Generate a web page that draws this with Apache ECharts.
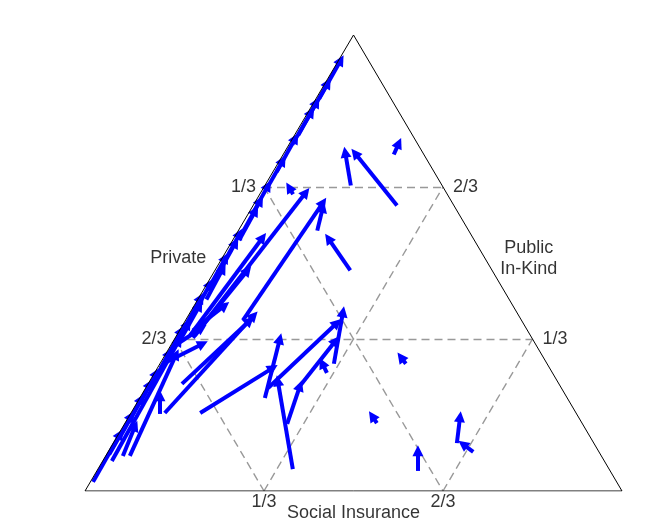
<!DOCTYPE html>
<html>
<head>
<meta charset="utf-8">
<script src="https://cdn.jsdelivr.net/npm/echarts@6/dist/echarts.min.js"></script>
<style>
html, body { margin: 0; padding: 0; background: #fff; }
#chart { width: 651px; height: 522px; }
</style>
</head>
<body>
<div id="chart"></div>
<script>
var tickShares = [1 / 3, 2 / 3];
var tickLabels = ['1/3', '2/3'];
var axisNames = ['Private', 'Public\nIn-Kind', 'Social Insurance'];

// each move: [social insurance start, public in-kind start, social insurance end, public in-kind end]
// moves that run along the Private / Public In-Kind edge
var edgeMoves = [
    [0.006, 0.86, 0.004, 0.945],
    [0.006, 0.82, 0.005, 0.895],
    [0.007, 0.78, 0.005, 0.853],
    [0.006, 0.76, 0.006, 0.831],
    [0.007, 0.70, 0.005, 0.774],
    [0.007, 0.66, 0.006, 0.725],
    [0.008, 0.61, 0.006, 0.670],
    [0.010, 0.57, 0.008, 0.637],
    [0.012, 0.55, 0.010, 0.615],
    [0.008, 0.50, 0.006, 0.565],
    [0.010, 0.48, 0.008, 0.545],
    [0.008, 0.44, 0.006, 0.512],
    [0.016, 0.42, 0.013, 0.488],
    [0.008, 0.39, 0.006, 0.455],
    [0.006, 0.35, 0.004, 0.424],
    [0.012, 0.33, 0.010, 0.407],
    [0.010, 0.29, 0.008, 0.367],
    [0.006, 0.27, 0.004, 0.352],
    [0.008, 0.22, 0.006, 0.303],
    [0.006, 0.19, 0.004, 0.259],
    [0.006, 0.15, 0.004, 0.235],
    [0.006, 0.12, 0.004, 0.202],
    [0.005, 0.08, 0.004, 0.165],
    [0.005, 0.02, 0.003, 0.125],
    [0.017, 0.066, 0.010, 0.33],
    [0.045, 0.077, 0.020, 0.30]
];

// moves inside the triangle
var innerMoves = [
    [0.032, 0.077, 0.022, 0.143],
    [0.055, 0.169, 0.035, 0.209],
    [0.063, 0.171, 0.122, 0.385],
    [0.063, 0.235, 0.120, 0.374],
    [0.129, 0.171, 0.215, 0.270],
    [0.006, 0.279, 0.058, 0.323],
    [0.025, 0.341, 0.053, 0.556],
    [0.033, 0.336, 0.061, 0.484],
    [0.034, 0.341, 0.084, 0.655],
    [0.107, 0.374, 0.127, 0.633],
    [0.147, 0.571, 0.132, 0.622],
    [0.025, 0.352, 0.057, 0.407],
    [0.008, 0.319, 0.039, 0.358],
    [0.252, 0.484, 0.176, 0.554],
    [0.062, 0.651, 0.047, 0.666],
    [0.160, 0.670, 0.113, 0.743],
    [0.268, 0.626, 0.132, 0.741],
    [0.206, 0.738, 0.203, 0.763],
    [0.324, 0.279, 0.284, 0.393],
    [0.228, 0.226, 0.285, 0.369],
    [0.233, 0.204, 0.196, 0.334],
    [0.363, 0.048, 0.238, 0.242],
    [0.303, 0.147, 0.285, 0.231],
    [0.285, 0.231, 0.302, 0.330],
    [0.321, 0.259, 0.301, 0.281],
    [0.458, 0.279, 0.441, 0.294],
    [0.469, 0.149, 0.452, 0.165],
    [0.598, 0.044, 0.576, 0.088],
    [0.640, 0.105, 0.617, 0.163],
    [0.680, 0.086, 0.652, 0.103]
];

var font = "'Liberation Sans', Arial, sans-serif";

// ternary share -> plot position (triangle with base 0..1, apex at 0.5,1)
function toXY(si, pik) {
    return [si + pik / 2, pik];
}

function moveLines(list) {
    return list.map(function (m) {
        return { coords: [toXY(m[0], m[1]), toXY(m[2], m[3])] };
    });
}

// dashed grid: constant public in-kind, social insurance and private shares
var gridSegs = [];
tickShares.forEach(function (v) {
    gridSegs.push([toXY(0, v), toXY(1 - v, v)]);
    gridSegs.push([toXY(v, 0), toXY(v, 1 - v)]);
    gridSegs.push([toXY(0, 1 - v), toXY(1 - v, 0)]);
});

var labelData = [];
tickShares.forEach(function (v, i) {
    labelData.push({ value: toXY(0, 1 - v), label: { formatter: tickLabels[i], position: 'left', distance: 8 } });
    labelData.push({ value: toXY(1 - v, v), label: { formatter: tickLabels[i], position: 'right', distance: 10 } });
    labelData.push({ value: toXY(v, 0), label: { formatter: tickLabels[i], position: 'bottom', distance: 1 } });
});
labelData.push({ value: toXY(0, 0.5), label: { formatter: axisNames[0], position: 'inside', offset: [-41, -5] } });
labelData.push({ value: toXY(0.5, 0.5), label: { formatter: axisNames[1], position: 'inside', offset: [41, -4], align: 'center' } });
labelData.push({ value: toXY(0.5, 0), label: { formatter: axisNames[2], position: 'inside', offset: [0, 22] } });

var myChart = echarts.init(document.getElementById('chart'));

var option = {
    backgroundColor: '#fff',
    animation: false,
    grid: { left: 85, right: 29, top: 35, bottom: 31 },
    xAxis: { type: 'value', min: 0, max: 1, show: false },
    yAxis: { type: 'value', min: 0, max: 1, show: false },
    series: [
        {
            type: 'lines',
            coordinateSystem: 'cartesian2d',
            z: 1,
            symbol: 'none',
            silent: true,
            lineStyle: { color: '#999', width: 1.4, type: [8, 5], opacity: 1 },
            data: gridSegs.map(function (s) { return { coords: s }; })
        },
        {
            type: 'lines',
            coordinateSystem: 'cartesian2d',
            z: 2,
            symbol: ['none', 'triangle'],
            symbolSize: [12, 11],
            lineStyle: { color: '#0000ff', width: 4, opacity: 1 },
            data: moveLines(edgeMoves).concat(moveLines(innerMoves))
        },
        {
            type: 'line',
            z: 3,
            symbol: 'none',
            silent: true,
            lineStyle: { color: '#000', width: 1 },
            data: [toXY(0, 0), toXY(1, 0), toXY(0, 1), toXY(0, 0)]
        },
        {
            type: 'scatter',
            z: 4,
            symbolSize: 0,
            silent: true,
            label: { show: true, color: '#000', fontFamily: font, fontSize: 18, lineHeight: 21 },
            data: labelData
        }
    ]
};
myChart.setOption(option);
</script>
</body>
</html>
